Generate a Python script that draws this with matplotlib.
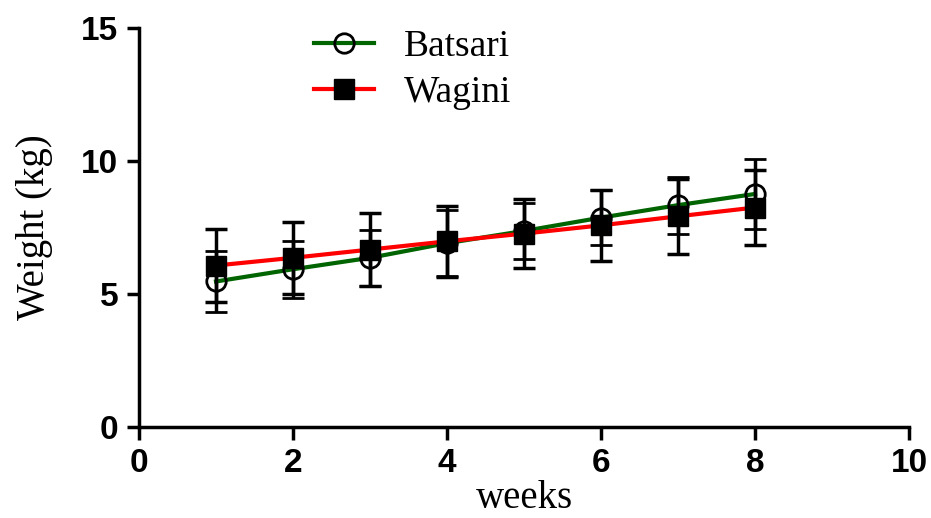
import matplotlib.pyplot as plt

weeks = [1, 2, 3, 4, 5, 6, 7, 8]

batsari_mean = [5.47, 5.93, 6.36, 6.91, 7.37, 7.87, 8.34, 8.76]
batsari_err = [1.15, 1.07, 1.05, 1.25, 1.05, 1.04, 1.07, 1.32]

wagini_mean = [6.07, 6.36, 6.67, 6.98, 7.27, 7.58, 7.92, 8.25]
wagini_err = [1.37, 1.36, 1.36, 1.33, 1.30, 1.34, 1.40, 1.40]

x_ticks = [0, 2, 4, 6, 8, 10]
y_ticks = [0, 5, 10, 15]


def main():
    fig = plt.figure(figsize=(9.31, 5.18), dpi=100)
    ax = fig.add_axes([0.1493, 0.1757, 0.8271, 0.7703])

    ax.errorbar(weeks, batsari_mean, yerr=batsari_err, color="#006400", lw=3,
                marker="o", ms=14, mfc="none", mec="black", mew=2,
                ecolor="black", elinewidth=2.5, capsize=8, capthick=2.5,
                label="Batsari", zorder=3)
    ax.errorbar(weeks, wagini_mean, yerr=wagini_err, color="#ff0000", lw=3,
                marker="s", ms=14, mfc="black", mec="black",
                ecolor="black", elinewidth=2.5, capsize=8, capthick=2.5,
                label="Wagini", zorder=4)

    ax.set_xlim(0, 10)
    ax.set_ylim(0, 15)
    ax.set_xticks(x_ticks)
    ax.set_yticks(y_ticks)

    for side in ["top", "right"]:
        ax.spines[side].set_visible(False)
    for side in ["left", "bottom"]:
        ax.spines[side].set_linewidth(2.5)
    ax.spines["left"].set_capstyle("projecting")

    ax.tick_params(axis="both", length=9, width=2.5, direction="out")
    ax.tick_params(axis="x", pad=6)
    ax.tick_params(axis="y", pad=6)
    for lab in ax.get_xticklabels() + ax.get_yticklabels():
        lab.set_fontfamily("Liberation Sans")
        lab.set_fontweight("bold")
        lab.set_fontsize(24)

    ax.set_xlabel("weeks", fontfamily="Liberation Serif", fontsize=28, labelpad=1)
    ax.set_ylabel("Weight (kg)", fontfamily="Liberation Serif", fontsize=28, labelpad=20)

    handles, labels = ax.get_legend_handles_labels()
    handles = [h[0] for h in handles]
    ax.legend(handles, labels, loc="upper left", bbox_to_anchor=(0.227, 0.995),
              frameon=False, borderpad=0, borderaxespad=0,
              handlelength=1.6, handletextpad=0.8, labelspacing=0.3,
              prop={"family": "Liberation Serif", "size": 27})

    fig.savefig("out.png", dpi=100)


main()
